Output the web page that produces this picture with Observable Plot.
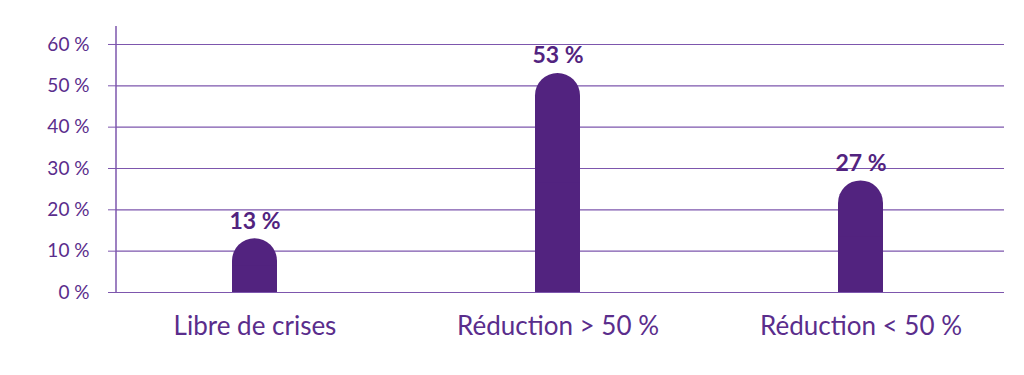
<!DOCTYPE html>
<html>
<head>
<meta charset="utf-8">
<script src="https://cdn.jsdelivr.net/npm/d3@7"></script>
<script src="https://cdn.jsdelivr.net/npm/@observablehq/plot@0.6"></script>
<style>
  html, body { margin: 0; padding: 0; background: #fff; }
  #chart svg { display: block; }
</style>
</head>
<body>
<div id="chart"></div>
<script>
const categories = ["Libre de crises", "Réduction > 50 %", "Réduction < 50 %"];
const values = [13, 53, 27];
const yTicks = [0, 10, 20, 30, 40, 50, 60];

const data = categories.map((c, i) => ({category: c, value: values[i]}));

const barColor = "#52237f";
const gridColor = "#7d56ad";
const textColor = "#5a2d8c";

const yAxisLine = (index, scales, values, dims) => {
  const g = d3.create("svg:line")
    .attr("x1", dims.marginLeft).attr("x2", dims.marginLeft)
    .attr("y1", dims.marginTop).attr("y2", dims.height - dims.marginBottom)
    .attr("stroke", gridColor).attr("stroke-width", 1.5);
  return g.node();
};

const chart = Plot.plot({
  width: 1024,
  height: 375,
  marginLeft: 116,
  marginRight: 20,
  marginTop: 26,
  marginBottom: 83,
  style: {fontFamily: "Lato, sans-serif", background: "#fff"},
  x: {domain: categories, range: [102.5, 1011.5], padding: 0, label: null},
  y: {domain: [0, 64.35], label: null},
  marks: [
    Plot.ruleY(yTicks, {stroke: gridColor, strokeWidth: 1.2}),
    Plot.axisY({ticks: yTicks, tickSize: 8, tickPadding: 19, stroke: gridColor, fontSize: 19, fill: textColor, tickFormat: d => `${d} %`, label: null}),
    Plot.axisX({tickSize: 0, tickPadding: 24, fontSize: 26, fill: textColor, label: null}),
    yAxisLine,
    Plot.barY(data, {x: "category", y: "value", fill: barColor, insetLeft: 129, insetRight: 129, rx: 22.5}),
    Plot.barY(data, {x: "category", y: d => d.value / 2, fill: barColor, insetLeft: 129, insetRight: 129}),
    Plot.text(data, {x: "category", y: "value", text: d => `${d.value} %`, lineAnchor: "bottom", dy: -10, fill: barColor, fontSize: 23, fontWeight: "bold"})
  ]
});
document.getElementById("chart").append(chart);
</script>
</body>
</html>
